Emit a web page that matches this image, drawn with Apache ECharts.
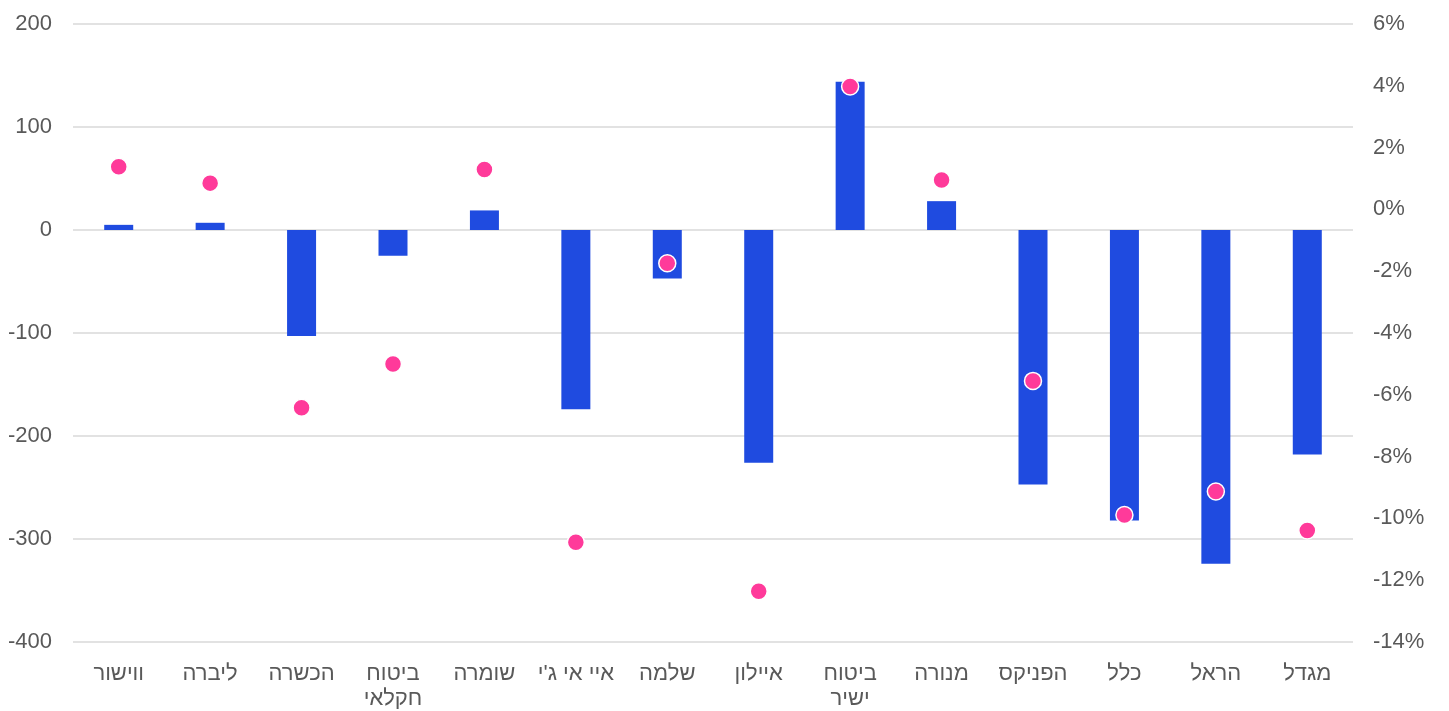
<!DOCTYPE html>
<html>
<head>
<meta charset="utf-8">
<script src="https://cdn.jsdelivr.net/npm/echarts@6/dist/echarts.min.js"></script>
<style>
html,body{margin:0;padding:0;background:#fff;}
#c{width:1449px;height:711px;}
</style>
</head>
<body>
<div id="c"></div>
<script>
const categories = ['ווישור','ליברה','הכשרה','ביטוח\nחקלאי','שומרה',"איי אי ג'י",'שלמה','איילון','ביטוח\nישיר','מנורה','הפניקס','כלל','הראל','מגדל'];
const barValues = [5, 7, -103, -25, 19, -174, -47, -226, 144, 28, -247, -282, -324, -218];
const dotValues = [1.38, 0.85, -6.42, -5.0, 1.29, -10.77, -1.74, -12.36, 3.98, 0.95, -5.55, -9.89, -9.13, -10.39];
const leftTicks = {min: -400, max: 200, interval: 100};
const rightTicks = {min: -14, max: 6, interval: 2};

const chart = echarts.init(document.getElementById('c'), null, {renderer: 'canvas'});
const font = 'Liberation Sans, Arial, sans-serif';
chart.setOption({
  animation: false,
  backgroundColor: '#ffffff',
  grid: {left: 73, right: 96, top: 24, bottom: 68},
  xAxis: {
    type: 'category',
    data: categories,
    axisLine: {show: false, onZero: false},
    axisTick: {show: false},
    axisLabel: {color: '#595959', fontSize: 22, fontFamily: font, margin: 19, lineHeight: 25, interval: 0}
  },
  yAxis: [
    {
      type: 'value', min: leftTicks.min, max: leftTicks.max, interval: leftTicks.interval,
      axisLine: {show: false}, axisTick: {show: false},
      axisLabel: {color: '#595959', fontSize: 22, fontFamily: font, margin: 21},
      splitLine: {lineStyle: {color: '#d9d9d9', width: 1.5}}
    },
    {
      type: 'value', min: rightTicks.min, max: rightTicks.max, interval: rightTicks.interval,
      position: 'right',
      axisLine: {show: false}, axisTick: {show: false},
      axisLabel: {color: '#595959', fontSize: 22, fontFamily: font, margin: 20, formatter: '{value}%'},
      splitLine: {show: false}
    }
  ],
  series: [
    {
      type: 'bar', data: barValues, yAxisIndex: 0, barWidth: 29,
      itemStyle: {color: '#1f4be0'}
    },
    {
      type: 'scatter', data: dotValues, yAxisIndex: 1, symbolSize: 17,
      itemStyle: {color: '#ff3a9a', borderColor: '#ffffff', borderWidth: 1.5, opacity: 1}
    }
  ]
});
</script>
</body>
</html>
